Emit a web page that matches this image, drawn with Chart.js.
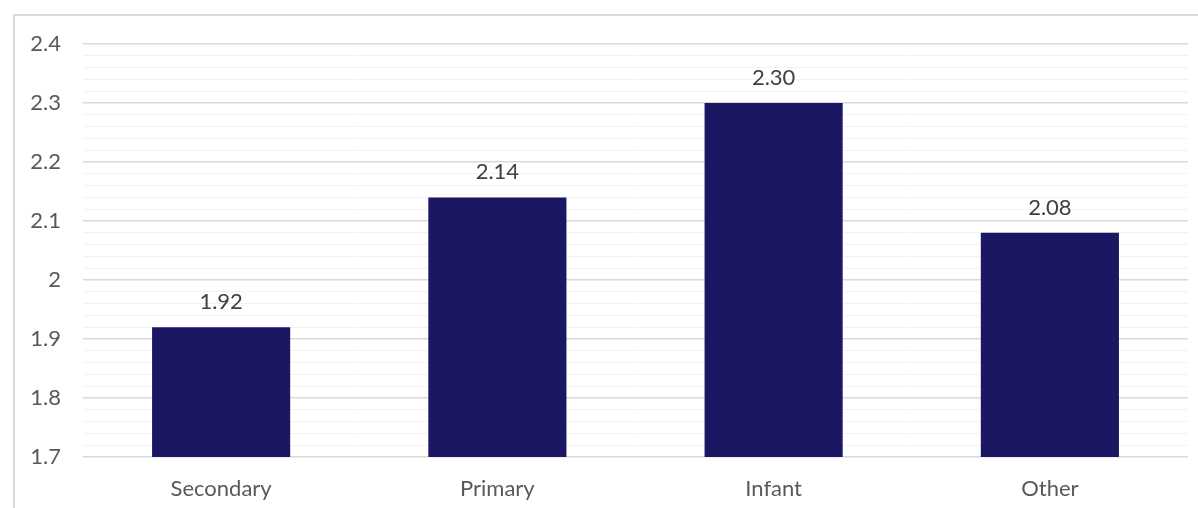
<!DOCTYPE html>
<html>
<head>
<meta charset="utf-8">
<script src="https://cdn.jsdelivr.net/npm/chart.js@4.4.1/dist/chart.umd.min.js"></script>
<style>
  html, body { margin: 0; padding: 0; background: #fff; }
  #wrap { width: 1198px; height: 508px; position: relative; }
</style>
</head>
<body>
<div id="wrap"><canvas id="myChart" width="1198" height="508"></canvas></div>
<script>
// data
const categories = ["Secondary", "Primary", "Infant", "Other"];
const values = [1.92, 2.14, 2.30, 2.08];
const yTickLabels = ["1.7", "1.8", "1.9", "2", "2.1", "2.2", "2.3", "2.4"];
const yMin = 1.7;
const yMax = 2.4;
const minorStep = 0.02;

const isMajor = (v) => Math.abs(v * 10 - Math.round(v * 10)) < 1e-6;

// light frame around the chart area (cut off on right/bottom like the original)
const framePlugin = {
  id: "frame",
  beforeDraw(chart) {
    const ctx = chart.ctx;
    ctx.save();
    ctx.strokeStyle = "#d9d9d9";
    ctx.lineWidth = 2;
    ctx.beginPath();
    ctx.moveTo(14, 508);
    ctx.lineTo(14, 15);
    ctx.lineTo(1198, 15);
    ctx.stroke();
    ctx.restore();
  },
};

// value labels above bars
const valueLabels = {
  id: "valueLabels",
  afterDatasetsDraw(chart) {
    const ctx = chart.ctx;
    const meta = chart.getDatasetMeta(0);
    ctx.save();
    ctx.font = "22px Lato";
    ctx.fillStyle = "#404040";
    ctx.textAlign = "center";
    ctx.textBaseline = "middle";
    meta.data.forEach((bar, i) => {
      ctx.fillText(values[i].toFixed(2), bar.x, bar.y - 25);
    });
    ctx.restore();
  },
};

new Chart(document.getElementById("myChart"), {
  type: "bar",
  data: {
    labels: categories,
    datasets: [
      {
        data: values,
        backgroundColor: "#1c1762",
        barPercentage: 0.5,
        categoryPercentage: 1,
      },
    ],
  },
  options: {
    responsive: false,
    animation: false,
    layout: { padding: { left: 0, right: 10, top: 44, bottom: 0 } },
    plugins: {
      legend: { display: false },
      tooltip: { enabled: false },
    },
    scales: {
      x: {
        grid: { display: false },
        border: { display: false },
        ticks: {
          color: "#595959",
          font: { family: "Lato", size: 22 },
          padding: 11,
        },
        afterFit: (scale) => {
          scale.height = 51;
        },
      },
      y: {
        min: yMin,
        max: yMax,
        border: { display: false },
        grid: {
          drawTicks: false,
          color: (c) => (isMajor(c.tick.value) ? "#d9d9d9" : "#f2f2f2"),
          lineWidth: (c) => (isMajor(c.tick.value) ? 1.5 : 1),
        },
        ticks: {
          stepSize: minorStep,
          autoSkip: false,
          color: "#595959",
          font: { family: "Lato", size: 22 },
          padding: 22,
          callback: (v) => {
            if (!isMajor(v)) return "";
            const idx = Math.round((v - yMin) * 10);
            return yTickLabels[idx];
          },
        },
        afterFit: (scale) => {
          scale.width = 83;
        },
      },
    },
  },
  plugins: [framePlugin, valueLabels],
});
</script>
</body>
</html>
